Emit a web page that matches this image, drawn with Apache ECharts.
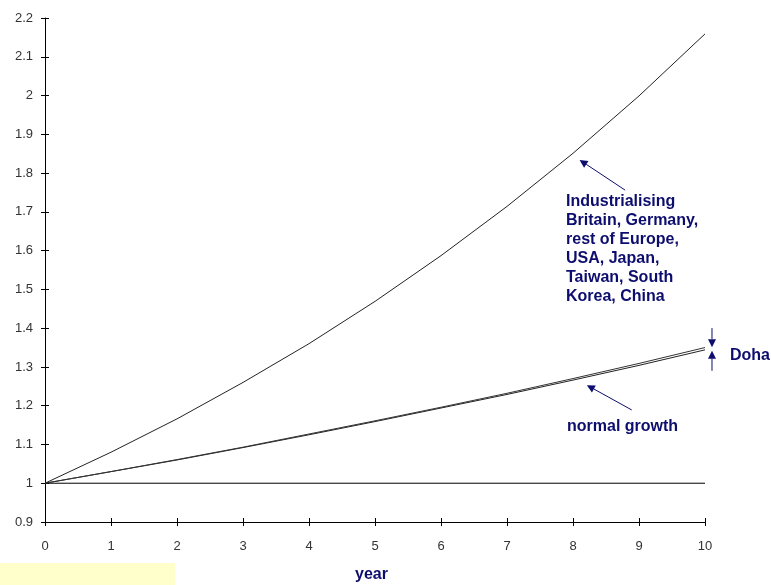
<!DOCTYPE html>
<html><head><meta charset="utf-8">
<script src="https://cdn.jsdelivr.net/npm/echarts@6/dist/echarts.min.js"></script>
<style>html,body{margin:0;padding:0;background:#fff}#c{width:771px;height:585px}</style>
</head><body><div id="c"></div>
<script>
var years = [0,1,2,3,4,5,6,7,8,9,10];
var industrialising = [1, 1.08, 1.166, 1.26, 1.36, 1.469, 1.587, 1.714, 1.851, 1.999, 2.159];
var normalGrowth = [1, 1.03, 1.06, 1.092, 1.125, 1.159, 1.194, 1.229, 1.266, 1.304, 1.344];
var doha = [1, 1.03, 1.061, 1.093, 1.127, 1.161, 1.196, 1.232, 1.27, 1.309, 1.35];
var baseline = [1,1,1,1,1,1,1,1,1,1,1];
var industrialisingLabel = "Industrialising\nBritain, Germany,\nrest of Europe,\nUSA, Japan,\nTaiwan, South\nKorea, China";
var normalLabel = "normal growth";
var dohaLabel = "Doha";
var xTitle = "year";

function pairs(arr){ return years.map(function(x,i){ return [x, arr[i]]; }); }
var navy = '#0d0d6e';
var labelFont = {fontFamily:'Liberation Sans, Arial', fontSize:13, color:'#333'};
var chart = echarts.init(document.getElementById('c'), null, {renderer:'canvas'});
var lineBase = {type:'line', symbol:'none', smooth:false, silent:true, animation:false};
chart.setOption({
  animation:false,
  grid:{left:45, right:66, top:18, bottom:63},
  xAxis:[
    {type:'value', min:0, max:10, interval:1,
     axisLine:{lineStyle:{color:'#000', width:1}},
     axisTick:{show:true, length:4, lineStyle:{color:'#000'}},
     axisLabel:Object.assign({margin:18}, labelFont),
     splitLine:{show:false}},
    {type:'value', min:0, max:10, interval:1, position:'bottom',
     axisLine:{show:false}, axisTick:{show:true, inside:true, length:4, lineStyle:{color:'#000'}},
     axisLabel:{show:false}, splitLine:{show:false}}
  ],
  yAxis:[
    {type:'value', min:0.9, max:2.2, interval:0.1,
     axisLine:{show:true, lineStyle:{color:'#000', width:1}},
     axisTick:{show:true, length:4, lineStyle:{color:'#000'}},
     axisLabel:Object.assign({margin:12, formatter:function(v){return String(parseFloat(v.toFixed(1)));}}, labelFont),
     splitLine:{show:false}},
    {type:'value', min:0.9, max:2.2, interval:0.1, position:'left',
     axisLine:{show:false}, axisTick:{show:true, inside:true, length:4, lineStyle:{color:'#000'}},
     axisLabel:{show:false}, splitLine:{show:false}}
  ],
  series:[
    Object.assign({name:'baseline', data:pairs(baseline), lineStyle:{color:'#000', width:1}}, lineBase),
    Object.assign({name:'industrialising', data:pairs(industrialising), lineStyle:{color:'#222', width:1}}, lineBase),
    Object.assign({name:'normal', data:pairs(normalGrowth), lineStyle:{color:'#222', width:1}}, lineBase),
    Object.assign({name:'doha', data:pairs(doha), lineStyle:{color:'#333', width:1}}, lineBase)
  ]
});

function px(x,y){ return chart.convertToPixel({xAxisIndex:0, yAxisIndex:0}, [x,y]); }
function arrow(from, to){
  var a = px(from[0],from[1]), b = px(to[0],to[1]);
  var ang = Math.atan2(b[1]-a[1], b[0]-a[0]);
  var L = 8, W = 4;
  var bx = b[0]-L*Math.cos(ang), by = b[1]-L*Math.sin(ang);
  var p1 = [bx + W*Math.sin(ang), by - W*Math.cos(ang)];
  var p2 = [bx - W*Math.sin(ang), by + W*Math.cos(ang)];
  return [
    {type:'line', silent:true, shape:{x1:a[0],y1:a[1],x2:bx,y2:by}, style:{stroke:navy, lineWidth:1}},
    {type:'polygon', silent:true, shape:{points:[b,p1,p2]}, style:{fill:navy}}
  ];
}
var g = [];
var bold = 'bold 16px "Liberation Sans", Arial';
g.push({type:'rect', silent:true, shape:{x:0,y:563,width:175,height:22}, style:{fill:'#ffffcc'}});
g = g.concat(arrow([8.79,1.756],[8.1,1.834]));
g = g.concat(arrow([8.89,1.189],[8.21,1.253]));
g = g.concat(arrow([10.106,1.4],[10.106,1.351]));
g = g.concat(arrow([10.106,1.29],[10.106,1.342]));
g.push({type:'text', silent:true, left:566, top:192, style:{text:industrialisingLabel, font:bold, fill:navy, lineHeight:19}});
g.push({type:'text', silent:true, left:567, top:419, style:{text:normalLabel, font:bold, fill:navy}});
g.push({type:'text', silent:true, left:730, top:348, style:{text:dohaLabel, font:bold, fill:navy}});
g.push({type:'text', silent:true, left:355, top:567, style:{text:xTitle, font:bold, fill:navy}});
chart.setOption({graphic:g});
</script>
</body></html>
